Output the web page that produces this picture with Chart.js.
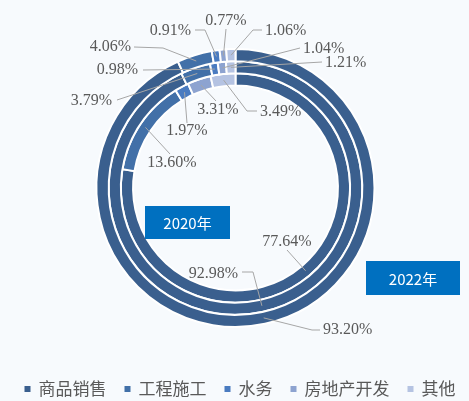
<!DOCTYPE html>
<html>
<head>
<meta charset="utf-8">
<script src="https://cdn.jsdelivr.net/npm/chart.js@4.4.0/dist/chart.umd.min.js"></script>
<style>
html, body { margin: 0; padding: 0; background: #f7fafd; }
#wrap { width: 469px; height: 401px; }
</style>
</head>
<body>
<div id="wrap"><canvas id="chart" width="469" height="401"></canvas></div>
<script>
// aneis de fora para dentro: 2022, 2021, 2020
var categorias = ['商品销售', '工程施工', '水务', '房地产开发', '其他'];
var anos = ['2022年', '2021年', '2020年'];
var valores2022 = [93.20, 4.06, 0.91, 0.77, 1.06];
var valores2021 = [92.98, 3.79, 0.98, 1.04, 1.21];
var valores2020 = [77.64, 13.60, 1.97, 3.31, 3.49];

var cores = ['#3a5f8e', '#4270a8', '#4a7bc0', '#8da3d0', '#b5c3e2'];

// posicao dos rotulos (ds = anel, i = fatia), linha sai do meio do arco
var rotulos = [
    {ds: 0, i: 0, x: 323, y: 330, align: 'left',   linha: [[312, 330], [320, 330]]},
    {ds: 0, i: 1, x: 131, y: 47,  align: 'right',  linha: [[163, 48], [134, 47]]},
    {ds: 0, i: 2, x: 191, y: 31,  align: 'right',  linha: [[205, 30], [195, 30]]},
    {ds: 0, i: 3, x: 226, y: 21,  align: 'center', linha: [[226, 29]]},
    {ds: 0, i: 4, x: 265, y: 31,  align: 'left',   linha: [[253, 30], [262, 30]]},
    {ds: 1, i: 0, x: 238, y: 274, align: 'right',  linha: [[253, 272], [242, 272]]},
    {ds: 1, i: 1, x: 112, y: 101, align: 'right',  linha: [[117, 100]]},
    {ds: 1, i: 2, x: 138, y: 70,  align: 'right',  linha: [[143, 70]]},
    {ds: 1, i: 3, x: 303, y: 49,  align: 'left',   linha: [[300, 48]]},
    {ds: 1, i: 4, x: 325, y: 63,  align: 'left',   linha: [[322, 62]]},
    {ds: 2, i: 0, x: 287, y: 242, align: 'center', linha: [[287, 250]]},
    {ds: 2, i: 1, x: 172, y: 163, align: 'center', linha: [[170, 154]]},
    {ds: 2, i: 2, x: 187, y: 131, align: 'center', linha: [[187, 123]]},
    {ds: 2, i: 3, x: 218, y: 110, align: 'center', linha: [[216, 101]]},
    {ds: 2, i: 4, x: 260, y: 112, align: 'left',   linha: [[247, 111], [257, 111]]}
];

// caixas azuis com o ano
var caixas = [
    {texto: anos[2], x: 145, y: 206, w: 85, h: 33},
    {texto: anos[0], x: 366, y: 261, w: 94, h: 34}
];

var rotulosPlugin = {
    id: 'rotulos',
    afterDatasetsDraw: function(chart) {
        var ctx = chart.ctx;
        ctx.save();
        rotulos.forEach(function(r) {
            var arc = chart.getDatasetMeta(r.ds).data[r.i];
            var p = arc.getProps(['x', 'y', 'startAngle', 'endAngle', 'innerRadius', 'outerRadius'], true);
            var a = (p.startAngle + p.endAngle) / 2;
            var raio = (p.innerRadius + p.outerRadius) / 2;
            ctx.beginPath();
            ctx.moveTo(p.x + Math.cos(a) * raio, p.y + Math.sin(a) * raio);
            r.linha.forEach(function(pt) { ctx.lineTo(pt[0], pt[1]); });
            ctx.strokeStyle = '#a6a6a6';
            ctx.lineWidth = 1;
            ctx.stroke();

            var v = chart.data.datasets[r.ds].data[r.i];
            ctx.fillStyle = '#595959';
            ctx.font = '16px "Liberation Serif"';
            ctx.textAlign = r.align;
            ctx.textBaseline = 'middle';
            ctx.fillText(v.toFixed(2) + '%', r.x, r.y);
        });

        caixas.forEach(function(c) {
            ctx.fillStyle = '#0070c0';
            ctx.fillRect(c.x, c.y, c.w, c.h);
            ctx.fillStyle = '#ffffff';
            ctx.font = '15px "Noto Sans CJK SC"';
            ctx.textAlign = 'center';
            ctx.textBaseline = 'middle';
            ctx.fillText(c.texto, c.x + c.w / 2, c.y + c.h / 2 + 1);
        });

        // legenda
        ctx.font = '17px "Noto Sans CJK SC"';
        var gap = 18, caixa = 6, dist = 8;
        var larguras = categorias.map(function(c) { return ctx.measureText(c).width; });
        var total = 0;
        larguras.forEach(function(w) { total += caixa + dist + w; });
        total += gap * (categorias.length - 1);
        var x = 240 - total / 2, y = 389;
        categorias.forEach(function(c, i) {
            ctx.fillStyle = cores[i];
            ctx.fillRect(x, y - caixa / 2, caixa, caixa);
            ctx.fillStyle = '#595959';
            ctx.textAlign = 'left';
            ctx.textBaseline = 'middle';
            ctx.fillText(c, x + caixa + dist, y);
            x += caixa + dist + larguras[i] + gap;
        });
        ctx.restore();
    }
};

var ctx = document.getElementById('chart').getContext('2d');
var myChart = new Chart(ctx, {
    type: 'doughnut',
    data: {
        labels: categorias,
        datasets: [
            {label: anos[0], data: valores2022},
            {label: anos[1], data: valores2021},
            {label: anos[2], data: valores2020}
        ].map(function(d) {
            d.backgroundColor = cores;
            d.borderColor = '#ffffff';
            d.borderWidth = 2;
            d.borderJoinStyle = 'miter';
            return d;
        })
    },
    options: {
        responsive: false,
        animation: false,
        radius: 139,
        cutout: '73.7%',
        layout: {padding: {left: 2, right: 0, top: 0, bottom: 25}},
        plugins: {
            legend: {display: false},
            tooltip: {enabled: false}
        }
    },
    plugins: [rotulosPlugin]
});
</script>
</body>
</html>
